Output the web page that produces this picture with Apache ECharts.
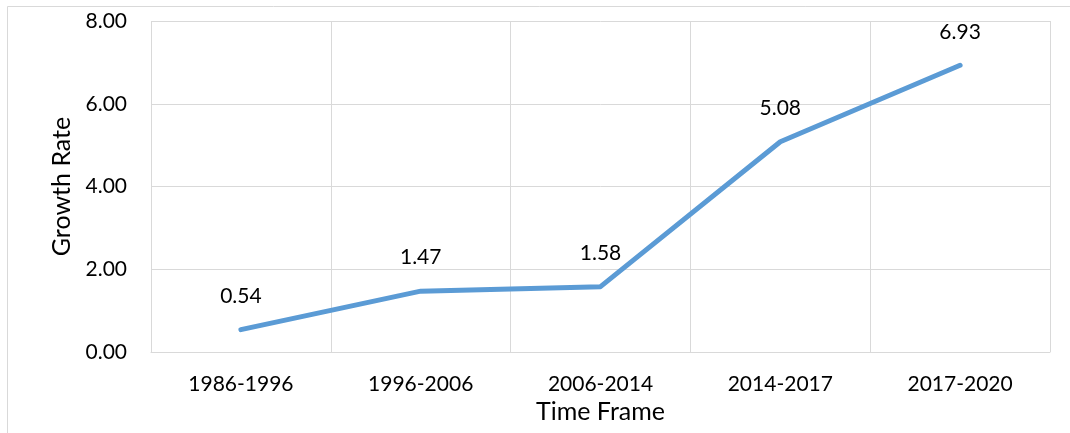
<!DOCTYPE html>
<html>
<head>
<meta charset="utf-8">
<script src="https://cdn.jsdelivr.net/npm/echarts@6/dist/echarts.min.js"></script>
<style>
  html, body { margin: 0; padding: 0; background: #ffffff; }
  #chart { width: 1070px; height: 433px; }
</style>
</head>
<body>
<div id="chart"></div>
<script>
// Growth rate by time frame
const categories = ['1986-1996', '1996-2006', '2006-2014', '2014-2017', '2017-2020'];
const growthRate = [0.54, 1.47, 1.58, 5.08, 6.93];
const yTicks = { min: 0, max: 8, interval: 2 };

const FONT = 'Lato';
const GRID_COLOR = '#d9d9d9';
const chart = echarts.init(document.getElementById('chart'), null, { renderer: 'canvas' });

chart.setOption({
  backgroundColor: '#ffffff',
  animation: false,
  textStyle: { fontFamily: FONT },
  graphic: [{
    // chart-area frame
    type: 'rect',
    shape: { x: 7.5, y: 6.5, width: 1100, height: 500 },
    style: { fill: 'none', stroke: GRID_COLOR, lineWidth: 1 },
    silent: true
  }],
  grid: { left: 151, right: 20, top: 21, bottom: 81 },
  xAxis: {
    type: 'category',
    data: categories,
    boundaryGap: true,
    name: 'Time Frame',
    nameLocation: 'middle',
    nameGap: 47,
    nameTextStyle: { fontFamily: FONT, fontSize: 25, color: '#000000' },
    axisLine: { show: true, lineStyle: { color: GRID_COLOR, width: 1 } },
    axisTick: { show: false },
    axisLabel: { fontFamily: FONT, fontSize: 21, color: '#000000', margin: 22 },
    splitLine: { show: true, lineStyle: { color: GRID_COLOR, width: 1 } }
  },
  yAxis: {
    type: 'value',
    min: yTicks.min,
    max: yTicks.max,
    interval: yTicks.interval,
    name: 'Growth Rate',
    nameLocation: 'middle',
    nameGap: 76,
    nameRotate: 90,
    nameTextStyle: { fontFamily: FONT, fontSize: 25, color: '#000000' },
    axisLine: { show: false },
    axisTick: { show: false },
    axisLabel: {
      fontFamily: FONT, fontSize: 21, color: '#000000', margin: 24,
      formatter: v => v.toFixed(2)
    },
    splitLine: { show: true, lineStyle: { color: GRID_COLOR, width: 1 } }
  },
  series: [{
    type: 'line',
    data: growthRate,
    showSymbol: true,
    symbol: 'circle',
    symbolSize: 2,
    itemStyle: { color: 'rgba(0,0,0,0)', borderWidth: 0 },
    lineStyle: { color: '#5b9bd5', width: 5, cap: 'round', join: 'round' },
    label: {
      show: true,
      position: 'top',
      distance: 22,
      fontFamily: FONT,
      fontSize: 21,
      color: '#000000',
      formatter: p => p.value.toFixed(2)
    }
  }]
});
</script>
</body>
</html>
